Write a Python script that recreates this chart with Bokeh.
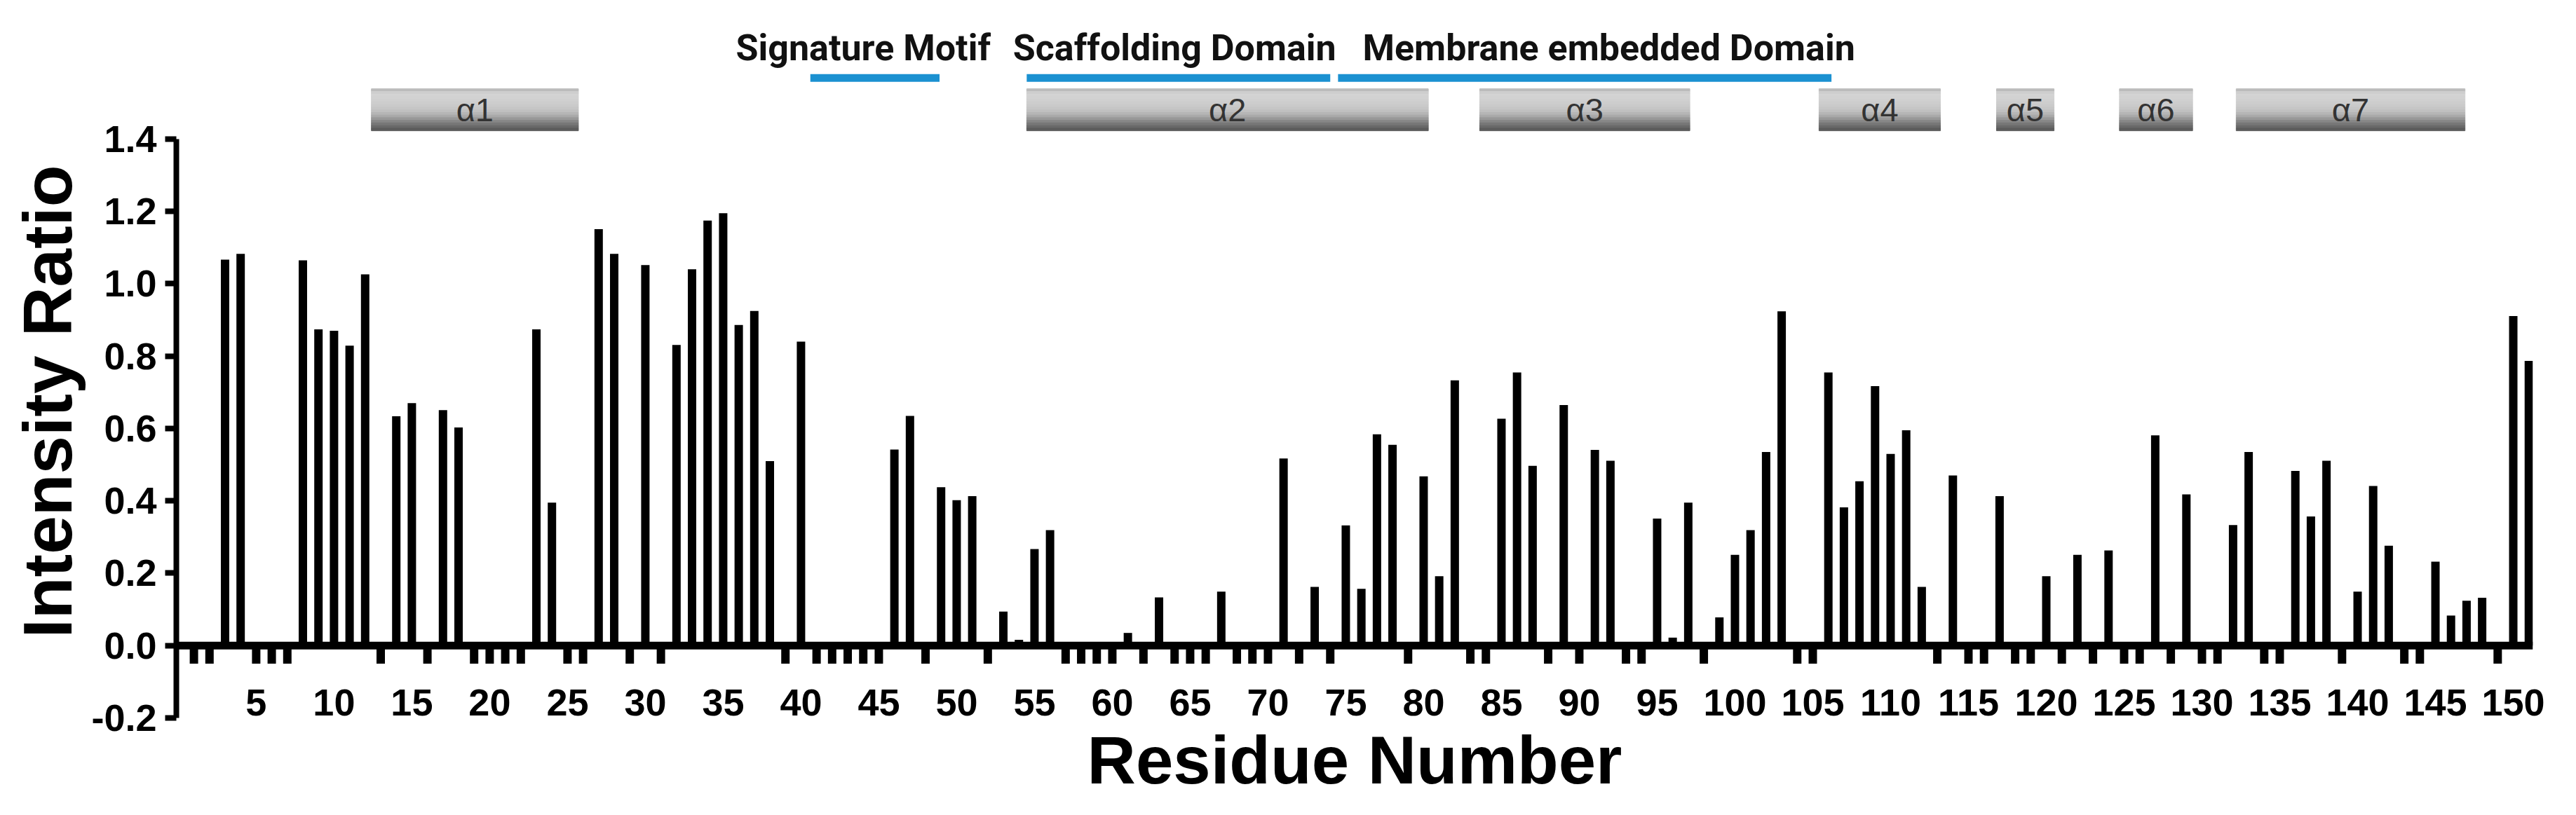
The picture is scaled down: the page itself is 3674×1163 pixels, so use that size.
from bokeh.plotting import figure
from bokeh.models import Range1d, FixedTicker, Span, Title, PrintfTickFormatter
from bokeh.core.properties import value
from bokeh.embed import file_html
from bokeh.resources import INLINE

# ---------------- data ----------------
residues = list(range(1, 152))
# -0.05 = residue without a measured ratio (small marker below the axis)
intensity = [
    -0.05, -0.05, 1.067, 1.083, -0.05, -0.05, -0.05, 1.065, 0.874, 0.870,   # 1-10
    0.829, 1.026, -0.05, 0.634, 0.670, -0.05, 0.651, 0.603, -0.05, -0.05,   # 11-20
    -0.05, -0.05, 0.874, 0.395, -0.05, -0.05, 1.151, 1.083, -0.05, 1.052,   # 21-30
    -0.05, 0.831, 1.040, 1.175, 1.195, 0.886, 0.925, 0.510, -0.05, 0.840,   # 31-40
    -0.05, -0.05, -0.05, -0.05, -0.05, 0.542, 0.635, -0.05, 0.438, 0.402,   # 41-50
    0.413, -0.05, 0.094, 0.016, 0.267, 0.319, -0.05, -0.05, -0.05, -0.05,   # 51-60
    0.035, -0.05, 0.133, -0.05, -0.05, -0.05, 0.149, -0.05, -0.05, -0.05,   # 61-70
    0.517, -0.05, 0.162, -0.05, 0.332, 0.157, 0.584, 0.555, -0.05, 0.468,   # 71-80
    0.192, 0.733, -0.05, -0.05, 0.627, 0.755, 0.497, -0.05, 0.665, -0.05,   # 81-90
    0.541, 0.511, -0.05, -0.05, 0.351, 0.022, 0.395, -0.05, 0.078, 0.251,   # 91-100
    0.319, 0.535, 0.924, -0.05, -0.05, 0.755, 0.382, 0.454, 0.717, 0.530,   # 101-110
    0.595, 0.162, -0.05, 0.470, -0.05, -0.05, 0.413, -0.05, -0.05, 0.192,   # 111-120
    -0.05, 0.251, -0.05, 0.263, -0.05, -0.05, 0.581, -0.05, 0.418, -0.05,   # 121-130
    -0.05, 0.333, 0.535, -0.05, -0.05, 0.483, 0.357, 0.511, -0.05, 0.149,   # 131-140
    0.441, 0.276, -0.05, -0.05, 0.232, 0.083, 0.124, 0.132, -0.05, 0.911,   # 141-150
    0.787,                                                                  # 151
]

helix_names = ["α1", "α2", "α3", "α4", "α5", "α6", "α7"]
helix_start = [12.4, 54.5, 83.6, 105.4, 116.8, 124.7, 132.2]
helix_end = [25.7, 80.3, 97.1, 113.2, 120.5, 129.4, 146.9]

domain_names = ["Signature Motif", "Scaffolding Domain", "Membrane embedded Domain"]
domain_start = [40.6, 54.5, 74.5]
domain_end = [48.9, 74.0, 106.2]
domain_label_x = [44.0, 64.0, 91.9]

x_ticks = list(range(5, 151, 5))
y_ticks = [-0.2, 0.0, 0.2, 0.4, 0.6, 0.8, 1.0, 1.2, 1.4]

# ---------------- styling constants ----------------
FONT = "Liberation Sans"
LABEL_FONT = "Roboto"
BLUE = "#1b91d1"
CYL_BOTTOM, CYL_TOP = 1.423, 1.539
DOMAIN_LINE_Y = 1.569
DOMAIN_TEXT_Y = 1.651
shade = ["#bcbcbc", "#cecece", "#d3d3d3", "#d2d2d2", "#d0d0d0", "#cdcdcd",
         "#cacaca", "#c6c6c6", "#c0c0c0", "#b6b6b6", "#a8a8a8", "#989898",
         "#878787", "#777777", "#686868", "#5c5c5c"]

p = figure(width=3658, height=1147, output_backend="svg", toolbar_location=None,
           x_range=Range1d(-0.13, 151.26), y_range=Range1d(-0.2, 1.7835),
           min_border_left=251, min_border_right=46, min_border_top=0,
           min_border_bottom=123)
p.outline_line_color = None
p.xgrid.grid_line_color = None
p.ygrid.grid_line_color = None
p.background_fill_color = "white"
p.border_fill_color = "white"

# bars
p.vbar(x=residues, top=intensity, bottom=0, width=0.54,
       fill_color="black", line_color=None)

# zero line
p.add_layout(Span(location=0, dimension="width", line_color="black", line_width=11))

# helix cylinders (vertical shading in strips)
n = len(shade)
h = (CYL_TOP - CYL_BOTTOM) / n
for i, c in enumerate(shade):
    top = CYL_TOP - i * h
    p.quad(left=helix_start, right=helix_end, top=top, bottom=top - h,
           fill_color=c, line_color=c, line_width=1)
p.text(x=[(s + e) / 2 for s, e in zip(helix_start, helix_end)],
       y=(CYL_TOP + CYL_BOTTOM) / 2, text=helix_names,
       text_align="center", text_baseline="middle",
       text_font=value(FONT), text_font_size="47px", text_color="#333333")

# domains
p.segment(x0=domain_start, x1=domain_end, y0=DOMAIN_LINE_Y, y1=DOMAIN_LINE_Y,
          line_width=11, line_color=BLUE)
p.text(x=domain_label_x, y=DOMAIN_TEXT_Y, text=domain_names,
       text_align="center", text_baseline="middle",
       text_font=value(LABEL_FONT), text_font_style="bold",
       text_font_size="52px", text_color="#111111")

# y axis
ya = p.yaxis[0]
ya.ticker = FixedTicker(ticks=y_ticks)
ya.bounds = (-0.2, 1.4)
ya.formatter = PrintfTickFormatter(format="%.1f")
ya.axis_line_width = 8
ya.axis_line_color = "black"
ya.major_tick_line_width = 8
ya.major_tick_out = 16
ya.major_tick_in = 0
ya.minor_tick_line_color = None
ya.major_label_text_font = FONT
ya.major_label_text_font_style = "bold"
ya.major_label_text_font_size = "54px"
ya.major_label_text_color = "black"
ya.major_label_standoff = 12

# x axis
xa = p.xaxis[0]
xa.ticker = FixedTicker(ticks=x_ticks)
xa.axis_line_color = None
xa.major_tick_line_color = None
xa.minor_tick_line_color = None
xa.major_label_text_font = FONT
xa.major_label_text_font_style = "bold"
xa.major_label_text_font_size = "54px"
xa.major_label_text_color = "black"
xa.major_label_standoff = -47
xa.axis_label = "Residue Number"
xa.axis_label_text_font = FONT
xa.axis_label_text_font_style = "bold"
xa.axis_label_text_font_size = "96px"
xa.axis_label_text_color = "black"
xa.axis_label_standoff = 7

p.add_layout(Title(text="Intensity Ratio", align="left", offset=114,
                   text_font=FONT, text_font_style="bold", text_font_size="98px",
                   text_color="black", standoff=10), "left")

open("out.html", "w").write(file_html(p, INLINE))
